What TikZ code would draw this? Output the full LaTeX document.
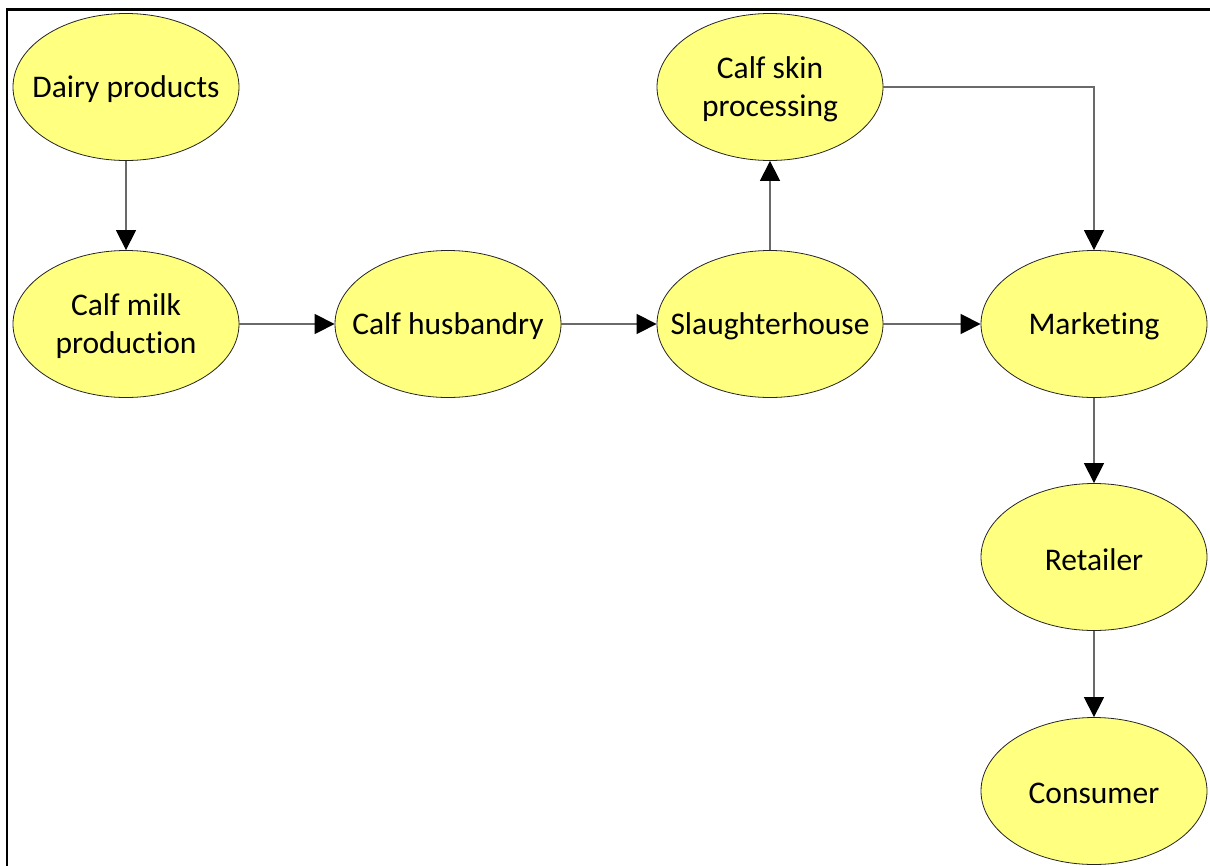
\documentclass[tikz,border=0pt]{standalone}
\usepackage{fontspec}
\setmainfont{Carlito}[Ligatures=NoCommon]
\usetikzlibrary{shapes.geometric,arrows.meta}
\definecolor{stagefill}{HTML}{FFFF80}
\definecolor{flowgray}{HTML}{6A6A6A}
\begin{document}
\begin{tikzpicture}[x=1pt,y=-1pt,
  stage/.style={ellipse,draw=black!85,line width=0.8pt,fill=stagefill,
    minimum width=226pt,minimum height=147pt,inner sep=0pt,
    label={[align=center,inner sep=0pt,yshift=-2.5pt,
      font=\fontsize{31.5}{38}\selectfont]center:{#1}}},
  flow/.style={draw=flowgray,line width=1.3pt,
    -{Triangle[length=20pt,width=20pt,fill=black,color=black]}}]
\useasboundingbox (0,0) rectangle (1210,865);
% frame edges
\draw[line width=2.6pt,line cap=rect] (7,865) -- (7,9.5) -- (1212,9.5);
% stages
\node[stage={Dairy products}] (dairy)   at (126,87)  {};
\node[stage={Calf milk\\production}] (milk) at (126,324) {};
\node[stage={Calf husbandry}] (husb)    at (448,324) {};
\node[stage={Slaughterhouse}] (slaught) at (770,324) {};
\node[stage={Calf skin\\processing}] (skin) at (770,87) {};
\node[stage={Marketing}] (market)  at (1094,324) {};
\node[stage={Retailer}]  (retail)  at (1094,557) {};
\node[stage={Consumer}]  (consum)  at (1094,791) {};
% flows
\draw[flow] (dairy) -- (milk);
\draw[flow] (milk) -- (husb);
\draw[flow] (husb) -- (slaught);
\draw[flow] (slaught) -- (market);
\draw[flow] (slaught) -- (skin);
\draw[flow] (skin.east) -| (market.north);
\draw[flow] (market) -- (retail);
\draw[flow] (retail) -- (consum);
\end{tikzpicture}
\end{document}
